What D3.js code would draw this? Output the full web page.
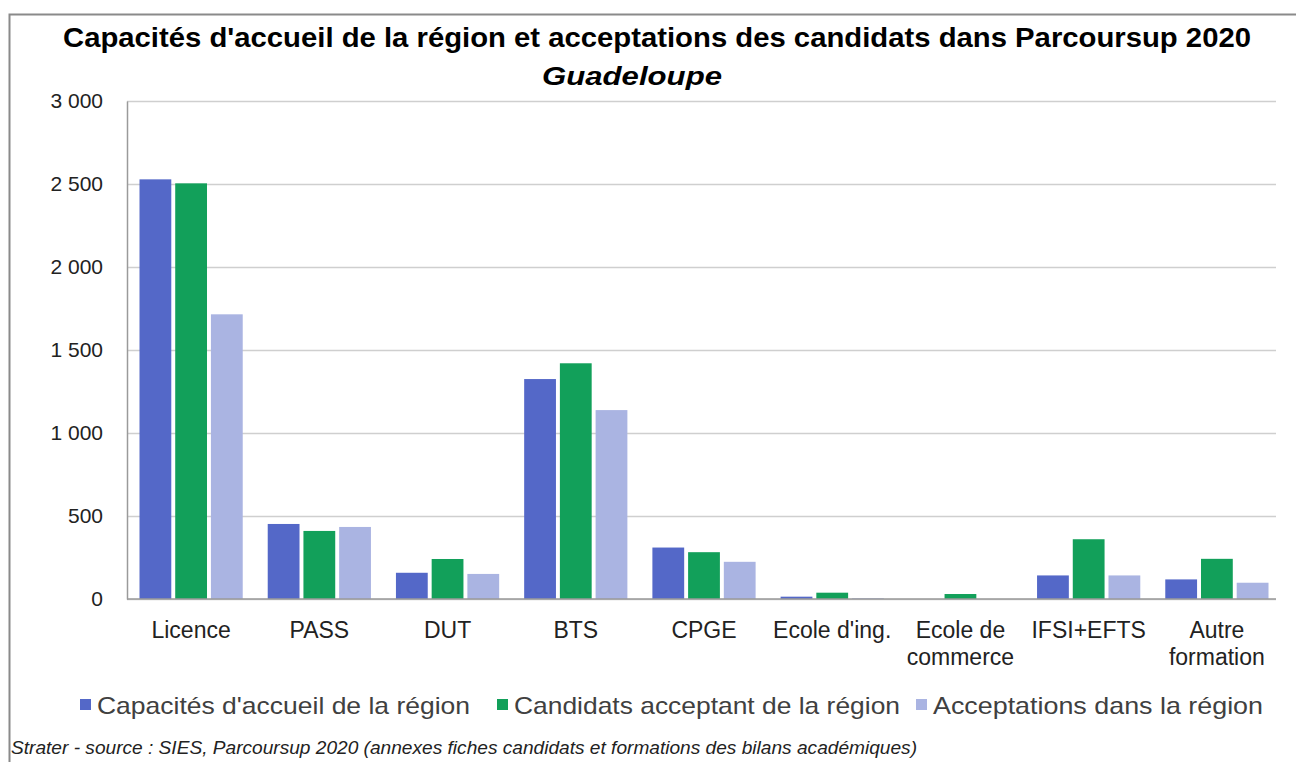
<!DOCTYPE html>
<html>
<head>
<meta charset="utf-8">
<script src="https://cdn.jsdelivr.net/npm/d3@7"></script>
<style>
  body { margin: 0; background: #fff; }
  svg { font-family: "Liberation Sans", Arial, sans-serif; }
</style>
</head>
<body>
<div id="chart"></div>
<script>
// data
var categories = ["Licence", "PASS", "DUT", "BTS", "CPGE", "Ecole d'ing.", "Ecole de commerce", "IFSI+EFTS", "Autre formation"];
var capacites = [2528, 452, 158, 1325, 310, 14, 0, 142, 118];
var candidats = [2504, 410, 241, 1420, 282, 38, 30, 360, 242];
var acceptations = [1715, 434, 151, 1138, 224, 5, 0, 142, 98];
var seriesNames = ["Capacités d'accueil de la région", "Candidats acceptant de la région", "Acceptations dans la région"];
var colors = ["#5468c8", "#12a05a", "#aab4e2"];
var yTicks = [0, 500, 1000, 1500, 2000, 2500, 3000];

var W = 1296, H = 762;
var margin = {top: 101, right: 15, bottom: 163, left: 127};
var width = W - margin.left - margin.right,
    height = H - margin.top - margin.bottom;

var svg = d3.select("#chart")
  .append("svg")
    .attr("width", W)
    .attr("height", H);

// frame (only left and top edges show in the picture)
svg.append("path")
  .attr("d", "M9.5," + H + "V14.5H" + W)
  .attr("fill", "none")
  .attr("stroke", "#8a8a8a")
  .attr("stroke-width", 2);

// titles
svg.append("text")
  .attr("x", 657).attr("y", 47)
  .attr("text-anchor", "middle")
  .attr("textLength", 1188).attr("lengthAdjust", "spacingAndGlyphs")
  .style("font-size", "27px").style("font-weight", "bold")
  .text("Capacités d'accueil de la région et acceptations des candidats dans Parcoursup 2020");
svg.append("text")
  .attr("x", 632).attr("y", 85)
  .attr("text-anchor", "middle")
  .attr("textLength", 180).attr("lengthAdjust", "spacingAndGlyphs")
  .style("font-size", "25px").style("font-weight", "bold").style("font-style", "italic")
  .text("Guadeloupe");

var g = svg.append("g")
  .attr("transform", "translate(" + margin.left + "," + margin.top + ")");

var x = d3.scaleBand()
  .domain(categories)
  .range([0, 1154])
  .paddingInner(0)
  .paddingOuter(0);

var x1 = d3.scaleBand()
  .domain([0, 1, 2])
  .range([12.5, x.bandwidth() - 12.5])
  .paddingInner(0.11);

var y = d3.scaleLinear()
  .domain([0, 3000])
  .range([height, 0]);

// gridlines
g.append("g")
  .call(d3.axisLeft(y).tickValues(yTicks).tickSize(-1149).tickFormat(""))
  .call(function(s) {
    s.select(".domain").remove();
    s.selectAll("line").attr("stroke", "#cfcfcf").attr("stroke-width", 1.5);
  });

// y labels
var fmt = function(d) { return d3.format(",")(d).replace(",", " "); };
g.append("g")
  .call(d3.axisLeft(y).tickValues(yTicks).tickSize(0).tickPadding(24).tickFormat(fmt))
  .call(function(s) {
    s.select(".domain").attr("stroke", "#9a9a9a").attr("stroke-width", 1.5);
    s.selectAll("text").style("font-size", "21px").attr("fill", "#222");
  });

// bars
var series = [capacites, candidats, acceptations];
series.forEach(function(vals, i) {
  g.selectAll(".bar" + i)
    .data(vals)
    .enter()
    .append("rect")
      .attr("x", function(d, j) { return x(categories[j]) + x1(i); })
      .attr("width", x1.bandwidth())
      .attr("y", function(d) { return y(d); })
      .attr("height", function(d) { return height - y(d); })
      .attr("fill", colors[i]);
});

// baseline
g.append("line")
  .attr("x1", 0).attr("x2", 1149)
  .attr("y1", y(0)).attr("y2", y(0))
  .attr("stroke", "#9a9a9a").attr("stroke-width", 1.5);

// x labels (wrapped onto two lines like the original)
var xLabels = {"Ecole de commerce": ["Ecole de", "commerce"], "Autre formation": ["Autre", "formation"]};
var xl = g.append("g").attr("transform", "translate(0," + height + ")");
categories.forEach(function(c) {
  var lines = xLabels[c] || [c];
  var t = xl.append("text")
    .attr("x", x(c) + x.bandwidth() / 2)
    .attr("y", 39)
    .attr("text-anchor", "middle")
    .style("font-size", "23px")
    .attr("fill", "#222");
  lines.forEach(function(l, k) {
    t.append("tspan").attr("x", x(c) + x.bandwidth() / 2).attr("dy", k ? 27 : 0).text(l);
  });
});

// legend
var legend = svg.append("g").attr("transform", "translate(0,714)");
var lx = [80, 497, 916];
var lw = [373, 386, 330];
seriesNames.forEach(function(n, i) {
  legend.append("rect")
    .attr("x", lx[i]).attr("y", -15)
    .attr("width", 11).attr("height", 11)
    .attr("fill", colors[i]);
  legend.append("text")
    .attr("x", lx[i] + 17).attr("y", 0)
    .attr("textLength", lw[i]).attr("lengthAdjust", "spacingAndGlyphs")
    .style("font-size", "24px")
    .attr("fill", "#404040")
    .text(n);
});

// source
svg.append("text")
  .attr("x", 11).attr("y", 754)
  .attr("textLength", 906).attr("lengthAdjust", "spacingAndGlyphs")
  .style("font-size", "18px").style("font-style", "italic")
  .attr("fill", "#222")
  .text("Strater - source : SIES, Parcoursup 2020 (annexes fiches candidats et formations des bilans académiques)");
</script>
</body>
</html>
